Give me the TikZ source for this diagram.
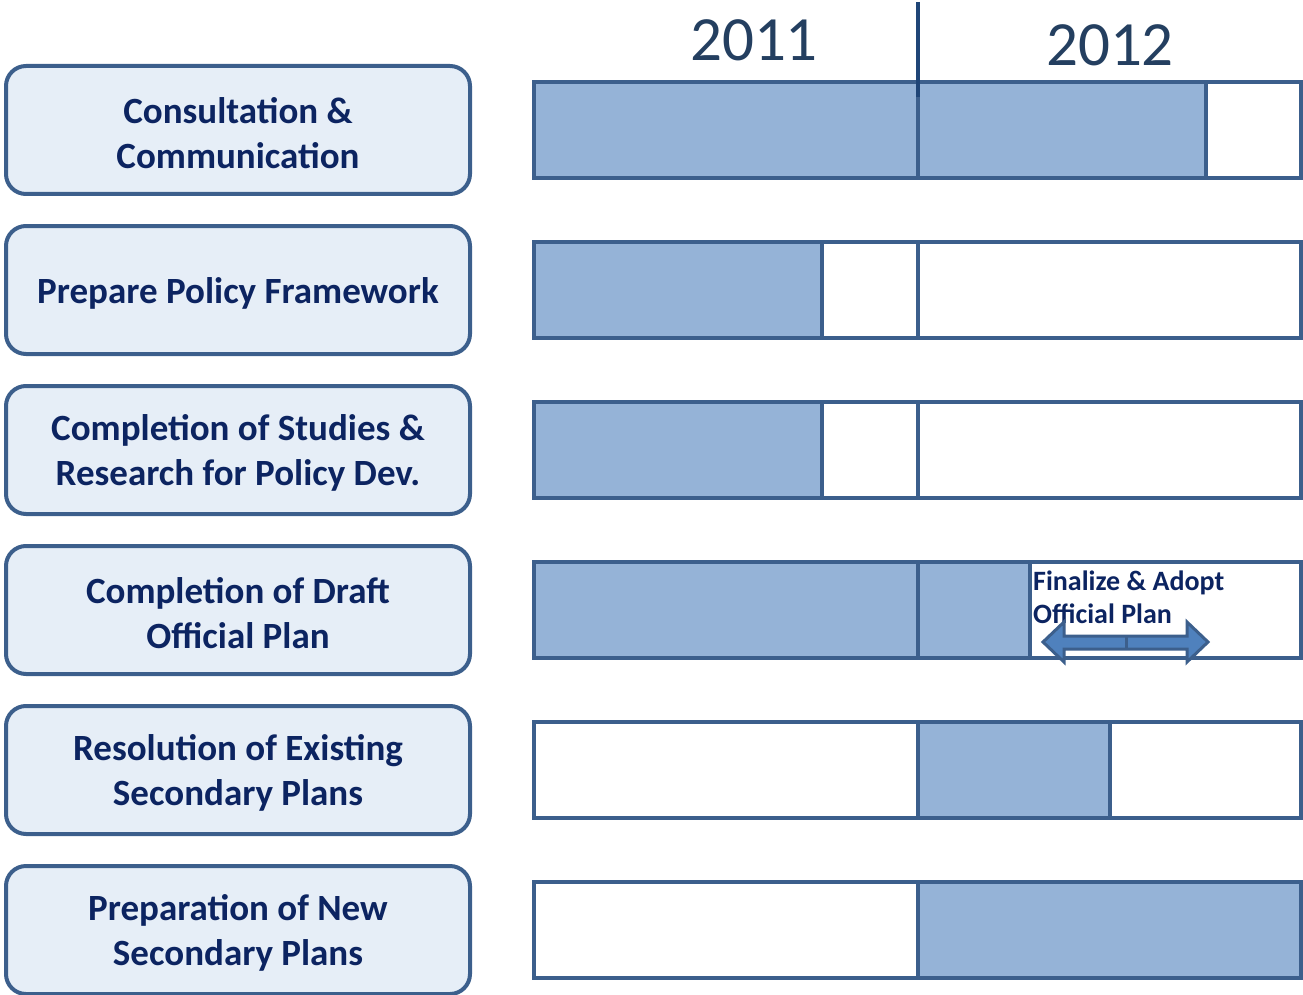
\documentclass[tikz,border=0pt]{standalone}
\usepackage{fontspec}
\setmainfont{Carlito}
\definecolor{edge}{HTML}{3C5F8C}
\definecolor{boxfill}{HTML}{E6EEF7}
\definecolor{barfill}{HTML}{95B3D7}
\definecolor{txt}{HTML}{0C2461}
\definecolor{yeartxt}{HTML}{243F60}
\definecolor{divider}{HTML}{1F4577}
\definecolor{arrfill}{HTML}{4F81BD}
\begin{document}
\begin{tikzpicture}[x=1pt,y=-1pt,
  label/.style={draw=edge,line width=4pt,fill=boxfill,rounded corners=20pt,
    minimum width=464pt,minimum height=128pt,text=txt,align=center,
    font=\fontsize{37}{45}\selectfont\bfseries,inner sep=0pt},
  seg/.style={draw=edge,line width=4pt,inner sep=0pt,minimum height=96pt},
  on/.style={seg,fill=barfill},
  off/.style={seg,fill=white}]
\useasboundingbox (0,0) rectangle (1303,995);
% label boxes
\foreach \n/\yy in {1/130,2/290,3/450,4/610,5/770,6/930}
  \node[label,name=l\n] at (238,\yy) {};
\node[text=txt,align=center,font=\fontsize{37}{45}\selectfont\bfseries] (t1) at (238,133) {Consultation \&\\Communication};
\node[text=txt,align=center,font=\fontsize{37}{45}\selectfont\bfseries] (t2) at (238,293) {Prepare Policy Framework};
\node[text=txt,align=center,font=\fontsize{37}{45}\selectfont\bfseries] (t3) at (238,453) {Completion of Studies \&\\Research for Policy Dev.};
\node[text=txt,align=center,font=\fontsize{37}{45}\selectfont\bfseries] (t4) at (238,613) {Completion of Draft\\Official Plan};
\node[text=txt,align=center,font=\fontsize{37}{45}\selectfont\bfseries] (t5) at (238,773) {Resolution of Existing\\Secondary Plans};
\node[text=txt,align=center,font=\fontsize{37}{45}\selectfont\bfseries] (t6) at (238,933) {Preparation of New\\Secondary Plans};
% row 1 (y 82-178)
\node[on,minimum width=384pt]  (b1a) at (726,130) {};
\node[on,minimum width=288pt]  (b1b) at (1062,130) {};
\node[off,minimum width=95pt]  (b1c) at (1253.5,130) {};
% row 2
\node[on,minimum width=288pt]  (b2a) at (678,290) {};
\node[off,minimum width=96pt]  (b2b) at (870,290) {};
\node[off,minimum width=383pt] (b2c) at (1109.5,290) {};
% row 3
\node[on,minimum width=288pt]  (b3a) at (678,450) {};
\node[off,minimum width=96pt]  (b3b) at (870,450) {};
\node[off,minimum width=383pt] (b3c) at (1109.5,450) {};
% row 4
\node[on,minimum width=384pt]  (b4a) at (726,610) {};
\node[on,minimum width=112pt]  (b4b) at (974,610) {};
\node[off,minimum width=271pt] (b4c) at (1165.5,610) {};
% row 5
\node[off,minimum width=384pt] (b5a) at (726,770) {};
\node[on,minimum width=192pt]  (b5b) at (1014,770) {};
\node[off,minimum width=191pt] (b5c) at (1205.5,770) {};
% row 6
\node[off,minimum width=384pt] (b6a) at (726,930) {};
\node[on,minimum width=383pt]  (b6b) at (1109.5,930) {};
% year divider
\coordinate (top) at (918,2);
\coordinate (bot) at (918,97);
\draw[draw=divider,line width=3.5pt] (top) -- (bot);
\node[text=yeartxt,font=\fontsize{63}{63}\selectfont] (y1) at (754,40) {2011};
\node[text=yeartxt,font=\fontsize{63}{63}\selectfont] (y2) at (1110,45) {2012};
% finalize text
\node[anchor=west,text=txt,align=left,inner sep=0pt,
  font=\fontsize{28}{33}\selectfont\bfseries] (fin) at (1033,597) {Finalize \& Adopt\\Official Plan};
% double arrow
\draw[draw=edge,line width=3pt,fill=arrfill,line join=miter]
  (1043,642) -- (1064,622) -- (1064,636) -- (1187,636) -- (1187,622) -- (1208,642)
  -- (1187,662) -- (1187,649) -- (1064,649) -- (1064,662) -- cycle;
\draw[draw=edge,line width=3pt] (1126,636) -- (1126,649);
\end{tikzpicture}
\end{document}
